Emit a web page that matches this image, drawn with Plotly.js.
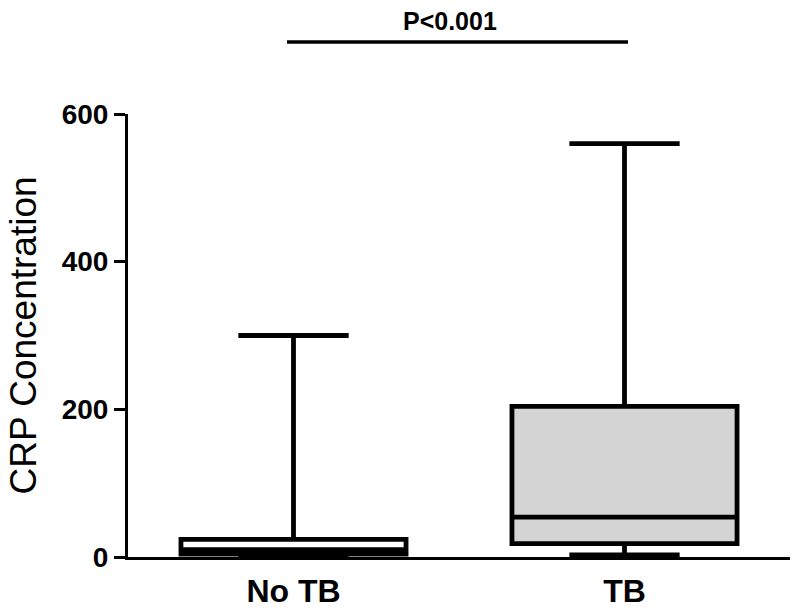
<!DOCTYPE html>
<html>
<head>
<meta charset="utf-8">
<script src="https://cdn.plot.ly/plotly-3.0.1.min.js"></script>
<style>html,body{margin:0;padding:0;background:#fff;}#chart{width:800px;height:612px;}</style>
</head>
<body>
<div id="chart"></div>
<script>
const categories = ["No TB", "TB"];
const lowerFence = [0.5, 3];
const q1 = [4, 18];
const median = [10, 54];
const q3 = [24, 204];
const upperFence = [300, 560];
const fills = ["#ffffff", "#d4d4d4"];
const yTicks = [0, 200, 400, 600];
const pLabel = "P<0.001";

const traces = categories.map((c, i) => ({
  type: "box",
  x: [c],
  q1: [q1[i]],
  median: [median[i]],
  q3: [q3[i]],
  lowerfence: [lowerFence[i]],
  upperfence: [upperFence[i]],
  boxpoints: false,
  width: 0.68,
  whiskerwidth: 0.49,
  fillcolor: fills[i],
  line: {color: "#000000", width: 4.8},
  hoverinfo: "skip",
  showlegend: false
}));

const layout = {
  width: 800, height: 612,
  margin: {l: 128, r: 10, t: 114, b: 55},
  paper_bgcolor: "#ffffff",
  plot_bgcolor: "#ffffff",
  boxmode: "overlay",
  showlegend: false,
  xaxis: {
    type: "category",
    range: [-0.5, 1.5],
    showline: true, linecolor: "#000000", linewidth: 3,
    showgrid: false, zeroline: false, ticks: "",
    tickfont: {family: "Liberation Sans, Arial, sans-serif", size: 32, color: "#000000", weight: "bold"},
    ticklabelstandoff: 4
  },
  yaxis: {
    range: [0, 600],
    tickvals: yTicks,
    ticktext: yTicks.map(String),
    showline: true, linecolor: "#000000", linewidth: 3,
    showgrid: false, zeroline: false,
    ticks: "outside", ticklen: 11, tickwidth: 3, tickcolor: "#000000",
    tickfont: {family: "Liberation Sans, Arial, sans-serif", size: 28, color: "#000000", weight: "bold"},
    title: {text: "CRP Concentration", standoff: 14,
      font: {family: "Liberation Sans, Arial, sans-serif", size: 37, color: "#000000"}}
  },
  shapes: [{
    type: "line", xref: "paper", yref: "paper",
    x0: (287 - 128) / 662, x1: (628 - 128) / 662,
    y0: 1.1625, y1: 1.1625,
    line: {color: "#000000", width: 3.5}
  }],
  annotations: [{
    text: "<b>" + pLabel + "</b>",
    xref: "paper", yref: "paper",
    x: (450 - 128) / 662, y: 1.21,
    xanchor: "center", yanchor: "middle",
    showarrow: false,
    font: {family: "Liberation Sans, Arial, sans-serif", size: 25, color: "#000000"}
  }]
};

Plotly.newPlot("chart", traces, layout, {displayModeBar: false, staticPlot: true});
</script>
</body>
</html>
